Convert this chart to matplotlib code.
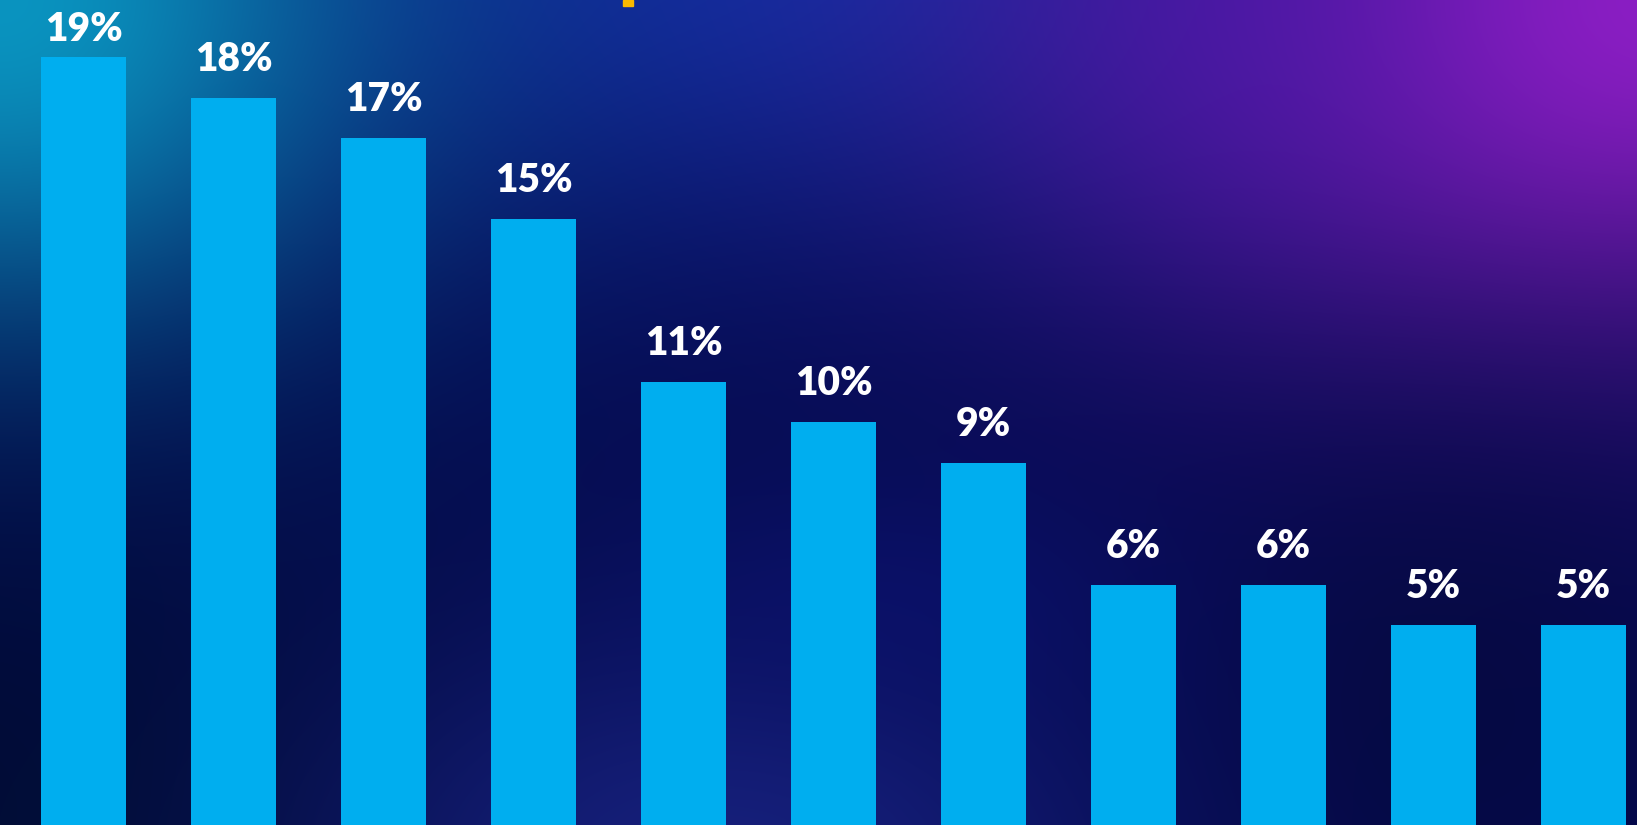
import numpy as np
import matplotlib
matplotlib.use('Agg')
import matplotlib.pyplot as plt
from matplotlib.patches import Rectangle

# Дані
values = [19, 18, 17, 15, 11, 10, 9, 6, 6, 5, 5]
labels = [f'{v}%' for v in values]

W, H = 1637, 825
fig = plt.figure(figsize=(W / 100, H / 100), dpi=100)

# Фон: градієнт з кількох плям
yy, xx = np.mgrid[0:H, 0:W].astype(float)
img = np.zeros((H, W, 3))
img[:] = np.array([4, 9, 78]) / 255

blobs = [
    # (cx, cy, sx, sy, колір, сила)
    (780, -60, 520, 300, (16, 44, 158), 0.95),
    (0, 0, 380, 340, (10, 148, 192), 1.0),
    (1637, 0, 520, 330, (142, 30, 196), 1.0),
    (1250, 0, 260, 260, (70, 22, 170), 0.5),
    (0, 825, 520, 330, (0, 12, 52), 1.0),
    (720, 870, 420, 260, (24, 34, 128), 0.9),
    (900, 600, 250, 120, (12, 18, 115), 0.5),
    (1450, 700, 220, 250, (6, 10, 60), 0.6),
]
for cx, cy, sx, sy, col, k in blobs:
    w = k * np.exp(-(((xx - cx) / sx) ** 2 + ((yy - cy) / sy) ** 2))
    img = img * (1 - w[..., None]) + np.array(col)[None, None, :] / 255 * w[..., None]

bg = fig.add_axes([0, 0, 1, 1])
bg.imshow(np.clip(img, 0, 1), aspect='auto', extent=(0, W, H, 0))
bg.axis('off')

# Стовпчики
ax = fig.add_axes([0, 0, 1, 1])
ax.patch.set_alpha(0)
x = np.arange(len(values))
ax.bar(x, values, width=0.571, color='#00AEEF')
ax.set_xlim(-0.5567, 10.357)
ax.set_ylim(0.074, 20.41)
ax.axis('off')

for xi, v, lab in zip(x, values, labels):
    y = min(v + 0.666, 19.39)
    ax.text(xi, y, lab, ha='center', va='baseline', color='white',
            fontsize=28, fontweight='heavy', family=['Lato', 'DejaVu Sans'])

# Жовтий фрагмент зверху
fig.patches.append(Rectangle((623 / W, 1 - 6 / H), 10 / W, 6 / H,
                             transform=fig.transFigure, color='#FAB900'))

fig.savefig('out.png', dpi=100)
